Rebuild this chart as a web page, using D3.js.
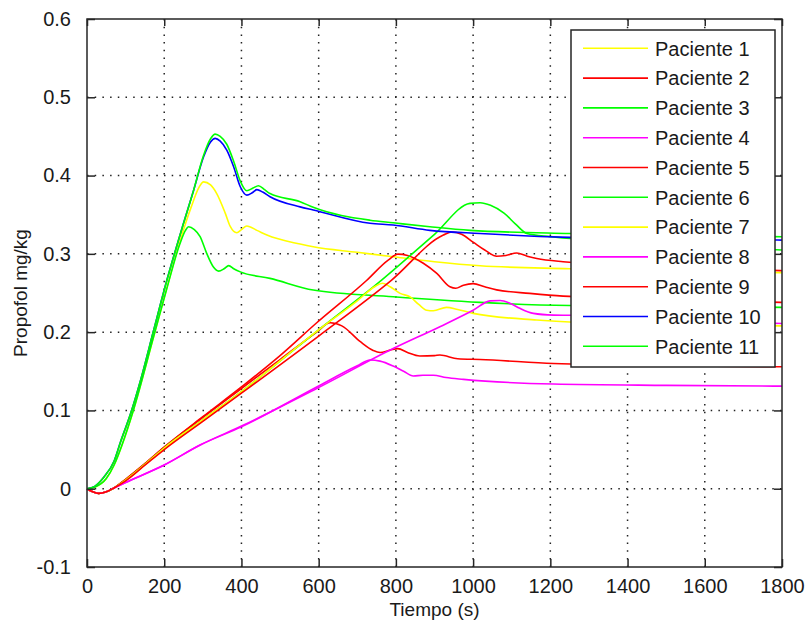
<!DOCTYPE html>
<html>
<head>
<meta charset="utf-8">
<script src="https://cdn.jsdelivr.net/npm/d3@7"></script>
<style>
  html, body { margin: 0; padding: 0; background: #fff; }
  svg { display: block; }
  text { font-family: "Liberation Sans", Arial, sans-serif; fill: #1a1a1a; }
</style>
</head>
<body>
<svg id="chart" width="806" height="625"></svg>
<script>
// Tick values
const xTicks = [0, 200, 400, 600, 800, 1000, 1200, 1400, 1600, 1800];
const yTicks = [-0.1, 0, 0.1, 0.2, 0.3, 0.4, 0.5, 0.6];

// Patient names and line colours
const patients = ["Paciente 1", "Paciente 2", "Paciente 3", "Paciente 4", "Paciente 5", "Paciente 6",
                  "Paciente 7", "Paciente 8", "Paciente 9", "Paciente 10", "Paciente 11"];
const colors = ["#ffff00", "#ff0000", "#00ff00", "#ff00ff", "#ff0000", "#00ff00",
                "#ffff00", "#ff00ff", "#ff0000", "#0000ff", "#00ff00"];

// Propofol concentration (mg/kg) over time (s), one [t, value] list per patient
const p1 = [[0,0],[20,0.002],[50,0.013],[70,0.03],[90,0.055],[120,0.10],[173,0.195],[207,0.257],[240,0.315],[270,0.36],[290,0.385],[302,0.392],[320,0.388],[336,0.377],[358,0.352],[371,0.335],[388,0.327],[400,0.331],[414,0.3355],[440,0.330],[466,0.324],[552,0.3125],[586,0.309],[700,0.302],[793,0.2963],[900,0.290],[1018,0.2848],[1250,0.281],[1500,0.278],[1800,0.276]];
const p2 = [[0,0],[15,-0.004],[30,-0.006],[50,-0.004],[70,0.001],[100,0.012],[150,0.032],[200,0.053],[300,0.091],[400,0.128],[500,0.165],[595,0.200],[630,0.212],[660,0.208],[708,0.1878],[740,0.177],[759,0.174],[785,0.177],[805,0.179],[830,0.174],[862,0.1695],[900,0.170],[914,0.1708],[960,0.166],[1018,0.165],[1208,0.160],[1500,0.157],[1800,0.1558]];
const p3 = [[0,0],[20,0.002],[50,0.013],[70,0.03],[90,0.055],[120,0.10],[173,0.195],[207,0.256],[240,0.312],[255,0.330],[263,0.3346],[278,0.331],[293,0.322],[310,0.3006],[327,0.2835],[341,0.278],[355,0.281],[367,0.285],[380,0.281],[397,0.277],[474,0.2687],[586,0.2538],[793,0.2452],[1018,0.238],[1250,0.234],[1500,0.233],[1800,0.2317]];
const p4 = [[0,0],[15,-0.004],[30,-0.006],[50,-0.004],[70,0.001],[100,0.008],[200,0.0303],[293,0.0558],[400,0.079],[595,0.130],[700,0.157],[733,0.1644],[759,0.163],[793,0.1567],[820,0.150],[845,0.144],[870,0.145],[897,0.145],[930,0.142],[975,0.1397],[1208,0.1337],[1500,0.132],[1800,0.131]];
const p5 = [[0,0],[15,-0.004],[30,-0.006],[50,-0.004],[70,0.001],[100,0.012],[150,0.032],[200,0.053],[300,0.092],[400,0.130],[500,0.170],[595,0.212],[724,0.266],[780,0.292],[805,0.2997],[830,0.298],[871,0.288],[906,0.275],[940,0.258],[955,0.256],[975,0.260],[1000,0.262],[1030,0.258],[1061,0.254],[1147,0.2495],[1233,0.246],[1500,0.242],[1800,0.238]];
const p6 = [[0,0],[15,-0.004],[30,-0.006],[50,-0.004],[70,0.001],[100,0.011],[150,0.031],[200,0.052],[300,0.088],[400,0.124],[600,0.203],[763,0.2665],[900,0.325],[992,0.3645],[1018,0.3653],[1045,0.362],[1080,0.352],[1110,0.338],[1139,0.326],[1200,0.322],[1300,0.318],[1500,0.312],[1800,0.305]];
const p7 = [[0,0],[15,-0.004],[30,-0.006],[50,-0.004],[70,0.001],[100,0.011],[150,0.031],[200,0.052],[300,0.088],[400,0.124],[600,0.203],[700,0.240],[745,0.258],[765,0.2625],[785,0.258],[811,0.2495],[837,0.245],[860,0.235],[880,0.228],[897,0.2273],[931,0.2317],[960,0.229],[1000,0.224],[1165,0.2155],[1250,0.213],[1500,0.210],[1800,0.208]];
const p8 = [[0,0],[15,-0.004],[30,-0.006],[50,-0.004],[70,0.001],[100,0.008],[200,0.0303],[293,0.0558],[400,0.080],[595,0.128],[793,0.179],[914,0.207],[1000,0.228],[1044,0.240],[1070,0.2405],[1095,0.237],[1121,0.2304],[1156,0.224],[1208,0.2218],[1250,0.2215],[1500,0.216],[1800,0.211]];
const p9 = [[0,0],[15,-0.004],[30,-0.006],[50,-0.004],[70,0.001],[100,0.010],[150,0.030],[200,0.050],[300,0.086],[400,0.122],[600,0.195],[789,0.2665],[923,0.324],[945,0.328],[970,0.325],[1000,0.315],[1030,0.305],[1061,0.297],[1085,0.298],[1113,0.301],[1140,0.297],[1165,0.294],[1233,0.290],[1500,0.284],[1800,0.2785]];
const p10 = [[0,0],[20,0.003],[44,0.015],[70,0.035],[87,0.06],[113,0.096],[139,0.139],[173,0.203],[207,0.2665],[250,0.339],[276,0.381],[302,0.424],[320,0.443],[332,0.4475],[345,0.444],[362,0.4326],[380,0.411],[397,0.3857],[414,0.375],[428,0.378],[440,0.382],[455,0.379],[474,0.373],[552,0.360],[586,0.356],[733,0.339],[793,0.3368],[888,0.330],[1018,0.326],[1250,0.321],[1500,0.319],[1800,0.3176]];
const p11 = [[0,0],[20,0.003],[44,0.015],[70,0.035],[87,0.06],[113,0.096],[139,0.139],[173,0.203],[207,0.2665],[250,0.339],[276,0.381],[302,0.426],[320,0.447],[332,0.453],[345,0.450],[362,0.440],[380,0.418],[397,0.393],[414,0.3806],[430,0.384],[444,0.387],[460,0.382],[474,0.377],[552,0.3666],[586,0.3594],[733,0.343],[793,0.3397],[888,0.3346],[992,0.330],[1250,0.326],[1500,0.324],[1800,0.3218]];

const seriesValues = [p1, p2, p3, p4, p5, p6, p7, p8, p9, p10, p11];

const svg = d3.select("#chart");
const plot = { left: 87, right: 782, top: 19, bottom: 567 };

const x = d3.scaleLinear().domain([0, 1800]).range([plot.left, plot.right]);
const y = d3.scaleLinear().domain([-0.1, 0.6]).range([plot.bottom, plot.top]);

// Dotted grid
const grid = svg.append("g").attr("class", "grid");
grid.selectAll("line.gx").data(xTicks.slice(1, -1)).enter().append("line")
  .attr("x1", d => x(d)).attr("x2", d => x(d))
  .attr("y1", plot.top).attr("y2", plot.bottom)
  .attr("stroke", "#222").attr("stroke-width", 1.5).attr("stroke-dasharray", "1.5,6.2");
grid.selectAll("line.gy").data(yTicks.slice(1, -1)).enter().append("line")
  .attr("y1", d => y(d)).attr("y2", d => y(d))
  .attr("x1", plot.left).attr("x2", plot.right)
  .attr("stroke", "#222").attr("stroke-width", 1.5).attr("stroke-dasharray", "1.5,6.2");

// Data lines
const line = d3.line().x(d => x(d[0])).y(d => y(d[1])).curve(d3.curveMonotoneX);
svg.append("g").attr("class", "series")
  .selectAll("path").data(seriesValues).enter().append("path")
  .attr("d", line)
  .attr("fill", "none")
  .attr("stroke", (d, i) => colors[i])
  .attr("stroke-width", 1.6)
  .attr("stroke-linejoin", "round");

// Axes with inward ticks on all four sides
const fmtY = d => (d === 0 ? "0" : d3.format(".1f")(d).replace("\u2212", "-"));
const axisStyle = g => {
  g.select(".domain").remove();
  g.selectAll(".tick line").attr("stroke", "#262626").attr("stroke-width", 1.5);
  g.selectAll(".tick text").attr("font-size", "20px").attr("fill", "#1a1a1a")
    .attr("font-family", "'Liberation Sans', Arial, sans-serif");
};
svg.append("g").attr("transform", `translate(0,${plot.bottom})`)
  .call(d3.axisBottom(x).tickValues(xTicks).tickSizeInner(-8).tickSizeOuter(0).tickPadding(12).tickFormat(d3.format("d")))
  .call(axisStyle);
svg.append("g").attr("transform", `translate(0,${plot.top})`)
  .call(d3.axisTop(x).tickValues(xTicks).tickSizeInner(-7).tickSizeOuter(0).tickFormat(""))
  .call(axisStyle);
svg.append("g").attr("transform", `translate(${plot.left},0)`)
  .call(d3.axisLeft(y).tickValues(yTicks).tickSizeInner(-8).tickSizeOuter(0).tickPadding(16).tickFormat(fmtY))
  .call(axisStyle);
svg.append("g").attr("transform", `translate(${plot.right},0)`)
  .call(d3.axisRight(y).tickValues(yTicks).tickSizeInner(-8).tickSizeOuter(0).tickFormat(""))
  .call(axisStyle);

// Plot frame
svg.append("rect")
  .attr("x", plot.left).attr("y", plot.top)
  .attr("width", plot.right - plot.left).attr("height", plot.bottom - plot.top)
  .attr("fill", "none").attr("stroke", "#262626").attr("stroke-width", 1.5);

// Axis titles
svg.append("text")
  .attr("x", (plot.left + plot.right) / 2).attr("y", 616)
  .attr("text-anchor", "middle").attr("font-size", "19px")
  .text("Tiempo (s)");
svg.append("text")
  .attr("transform", `translate(27,${(plot.top + plot.bottom) / 2}) rotate(-90)`)
  .attr("text-anchor", "middle").attr("font-size", "19px")
  .text("Propofol mg/kg");

// Legend
const legend = { left: 571, top: 30, width: 204, height: 337, first: 48.3, step: 29.8 };
const lg = svg.append("g").attr("class", "legend");
lg.append("rect")
  .attr("x", legend.left).attr("y", legend.top)
  .attr("width", legend.width).attr("height", legend.height)
  .attr("fill", "#fff").attr("stroke", "#262626").attr("stroke-width", 1.5);
const items = lg.selectAll("g.item").data(patients).enter().append("g")
  .attr("transform", (d, i) => `translate(0,${legend.first + i * legend.step})`);
items.append("line")
  .attr("x1", 583).attr("x2", 648).attr("y1", 0).attr("y2", 0)
  .attr("stroke", (d, i) => colors[i]).attr("stroke-width", 1.6);
items.append("text")
  .attr("x", 655).attr("y", 0).attr("dy", "0.36em")
  .attr("font-size", "20px")
  .text(d => d);
</script>
</body>
</html>
